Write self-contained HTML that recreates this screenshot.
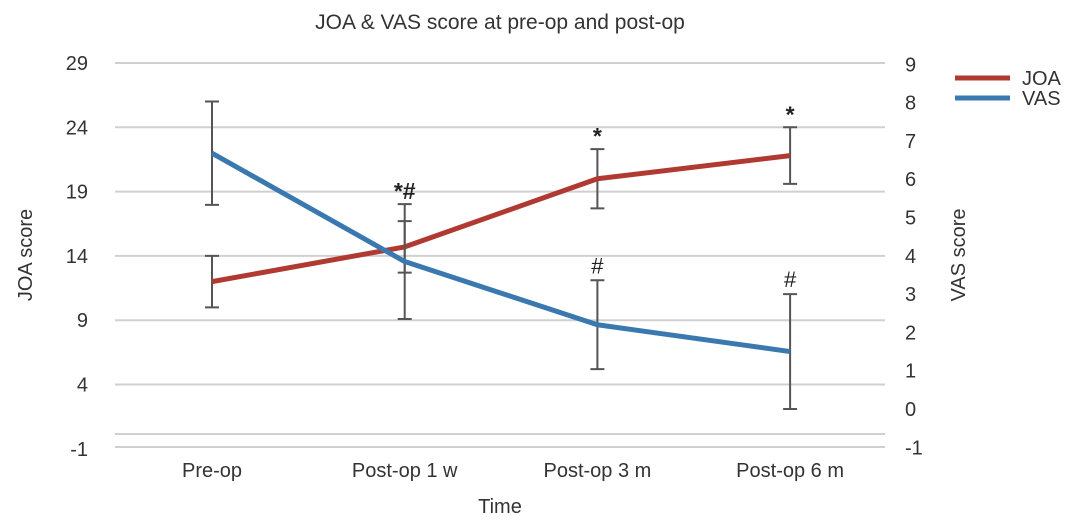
<!DOCTYPE html>
<html><head><meta charset="utf-8"><style>
body{margin:0;background:#fff}
svg text{font-family:"Liberation Sans",Arial,sans-serif;fill:#333}
</style></head><body>
<svg id="c" width="1087" height="527"></svg>
<script>
const categories=["Pre-op","Post-op 1 w","Post-op 3 m","Post-op 6 m"];
const joaValues=[12.0,14.7,20.0,21.8];
const joaErr=[2.0,2.0,2.3,2.2];
const vasValues=[6.68,3.85,2.2,1.5];
const vasErr=[1.35,1.5,1.16,1.5];
const leftTicks=[29,24,19,14,9,4,-1];
const rightTicks=[9,8,7,6,5,4,3,2,1,0,-1];
const joaMarks=["","*#","*","*"];
const vasMarks=["","","#","#"];
const NS="http://www.w3.org/2000/svg";
const svg=document.getElementById('c');
function el(t,a,txt){const e=document.createElementNS(NS,t);for(const k in a)e.setAttribute(k,a[k]);if(txt!=null)e.textContent=txt;svg.appendChild(e);return e;}
const xS=i=>212+i*192.7;
const yL=v=>63+(29-v)*12.86;
const yR=v=>409-38.3*v;
leftTicks.slice(0,6).forEach(v=>{const g=el('line',{x1:115,x2:885,y1:yL(v),y2:yL(v),stroke:'#d0d0d0','stroke-width':2});});
[434,447].forEach(y=>{const g=el('line',{x1:115,x2:885,y1:y,y2:y,stroke:'#d0d0d0','stroke-width':2});});
leftTicks.forEach(v=>{const t=el('text',{x:88,y:yL(v)+7,'text-anchor':'end','font-size':20},v);});
rightTicks.forEach(v=>{const t=el('text',{x:905,y:yR(v)+7,'font-size':20},v);});
categories.forEach((c,i)=>{const t=el('text',{x:xS(i),y:477,'text-anchor':'middle','font-size':20},c);});
function errBar(x,y1,y2,name){
 const g=el('path',{d:`M${x},${y1}V${y2}M${x-7},${y1}H${x+7}M${x-7},${y2}H${x+7}`,stroke:'#555','stroke-width':2,fill:'none'});
 }
function series(vals,errs,ys,color,name){
 vals.forEach((v,i)=>errBar(xS(i),ys(v+errs[i]),ys(v-errs[i]),name+'-error-bar'));
 const p=el('polyline',{points:vals.map((v,i)=>xS(i)+','+ys(v)).join(' '),fill:'none',stroke:color,'stroke-width':5,'stroke-linejoin':'round'});
 }
series(joaValues,joaErr,yL,'#b03a32','joa');
series(vasValues,vasErr,yR,'#3a78b0','vas');
joaMarks.forEach((m,i)=>{if(!m)return;const top=Math.min(yL(joaValues[i]+joaErr[i]),yR(vasValues[i]+vasErr[i]));const t=el('text',{x:xS(i),y:top-5,'text-anchor':'middle','font-size':23,'font-weight':'bold',style:'fill:#222'},m);});
vasMarks.forEach((m,i)=>{if(!m)return;const t=el('text',{x:xS(i),y:yR(vasValues[i]+vasErr[i])-7,'text-anchor':'middle','font-size':22,style:'fill:#222'},m);});
let t=el('text',{x:500,y:29,'text-anchor':'middle','font-size':21},'JOA & VAS score at pre-op and post-op');
t=el('text',{x:500,y:513,'text-anchor':'middle','font-size':20},'Time');
t=el('text',{x:0,y:0,'text-anchor':'middle','font-size':20,transform:'translate(32,255) rotate(-90)'},'JOA score');
t=el('text',{x:0,y:0,'text-anchor':'middle','font-size':20,transform:'translate(965,255) rotate(-90)'},'VAS score');
[['JOA','#b03a32',78],['VAS','#3a78b0',98]].forEach(([n,c,y])=>{
 const l=el('line',{x1:955,x2:1010,y1:y,y2:y,stroke:c,'stroke-width':5});
 const tx=el('text',{x:1022,y:y+7,'font-size':20},n);});
</script>
</body></html>
